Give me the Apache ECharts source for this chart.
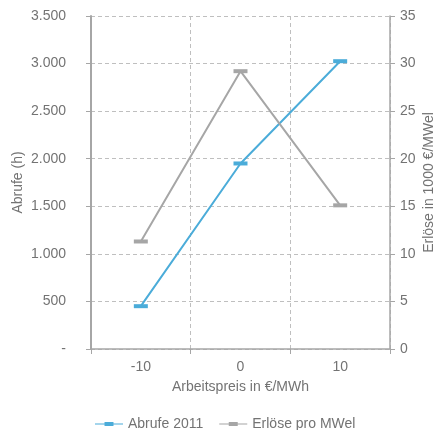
<!DOCTYPE html>
<html><head><meta charset="utf-8">
<script src="https://cdn.jsdelivr.net/npm/echarts@6/dist/echarts.min.js"></script>
<style>html,body{margin:0;padding:0;background:#fff}#c{width:434px;height:430px}</style>
</head><body><div id="c"></div>
<script>
const categories = ['-10', '0', '10'];
const abrufe2011 = [450, 1950, 3025];
const erloese = [11.3, 29.2, 15.1];
const seriesNames = ['Abrufe 2011', 'Erlöse pro MWel'];
const textColor = '#737373';
const axisColor = '#a6a6a6';
const gridColor = '#bfbfbf';
const fs = 14;
const legendIcon = 'path://M0,13H100V17H0Z M34,8H66V22H34Z';
const chart = echarts.init(document.getElementById('c'));
chart.setOption({
  animation: false,
  textStyle: { fontFamily: 'Liberation Sans, Arial, sans-serif' },
  grid: { left: 91, right: 44, top: 16, bottom: 81, outerBoundsMode: 'none', containLabel: false },
  legend: {
    top: 412, left: 90, itemWidth: 28, itemHeight: 8, itemGap: 16,
    textStyle: { color: textColor, fontSize: fs },
    data: [
      { name: seriesNames[0], icon: legendIcon },
      { name: seriesNames[1], icon: legendIcon }
    ]
  },
  xAxis: {
    type: 'category', data: categories, boundaryGap: true,
    name: 'Arbeitspreis in €/MWh', nameLocation: 'middle', nameGap: 31, nameMoveOverlap: false,
    nameTextStyle: { color: textColor, fontSize: fs },
    axisLine: { lineStyle: { color: axisColor, width: 1.5 } },
    axisTick: { show: true, length: 5, lineStyle: { color: axisColor } },
    axisLabel: { color: textColor, fontSize: fs, margin: 11 },
    splitLine: { show: true, lineStyle: { color: gridColor, type: [4, 3] } }
  },
  yAxis: [{
    type: 'value', min: 0, max: 3500, interval: 500,
    name: 'Abrufe (h)', nameLocation: 'middle', nameGap: 66, nameRotate: 90, nameMoveOverlap: false,
    nameTextStyle: { color: textColor, fontSize: fs },
    axisLine: { show: true, lineStyle: { color: axisColor, width: 2 } },
    axisTick: { show: true, length: 5, lineStyle: { color: axisColor } },
    axisLabel: { color: textColor, fontSize: fs, margin: 25,
      formatter: v => v === 0 ? '-' : String(v).replace(/\B(?=(\d{3})+(?!\d))/g, '.') },
    splitLine: { show: true, lineStyle: { color: gridColor, type: [4, 3] } }
  }, {
    type: 'value', min: 0, max: 35, interval: 5, position: 'right',
    name: 'Erlöse in 1000 €/MWel', nameLocation: 'middle', nameGap: 32, nameRotate: 90, nameMoveOverlap: false,
    nameTextStyle: { color: textColor, fontSize: fs },
    axisLine: { show: true, lineStyle: { color: axisColor, width: 1.5 } },
    axisTick: { show: true, length: 5, lineStyle: { color: axisColor } },
    axisLabel: { color: textColor, fontSize: fs, margin: 10 },
    splitLine: { show: false }
  }],
  series: [{
    name: seriesNames[0], type: 'line', yAxisIndex: 0, data: abrufe2011,
    symbol: 'rect', symbolSize: [14, 4],
    lineStyle: { color: '#4bacd9', width: 2 },
    itemStyle: { color: '#4bacd9' }
  }, {
    name: seriesNames[1], type: 'line', yAxisIndex: 1, data: erloese,
    symbol: 'rect', symbolSize: [14, 4],
    lineStyle: { color: '#a6a6a6', width: 2 },
    itemStyle: { color: '#a6a6a6' }
  }]
});
</script></body></html>
